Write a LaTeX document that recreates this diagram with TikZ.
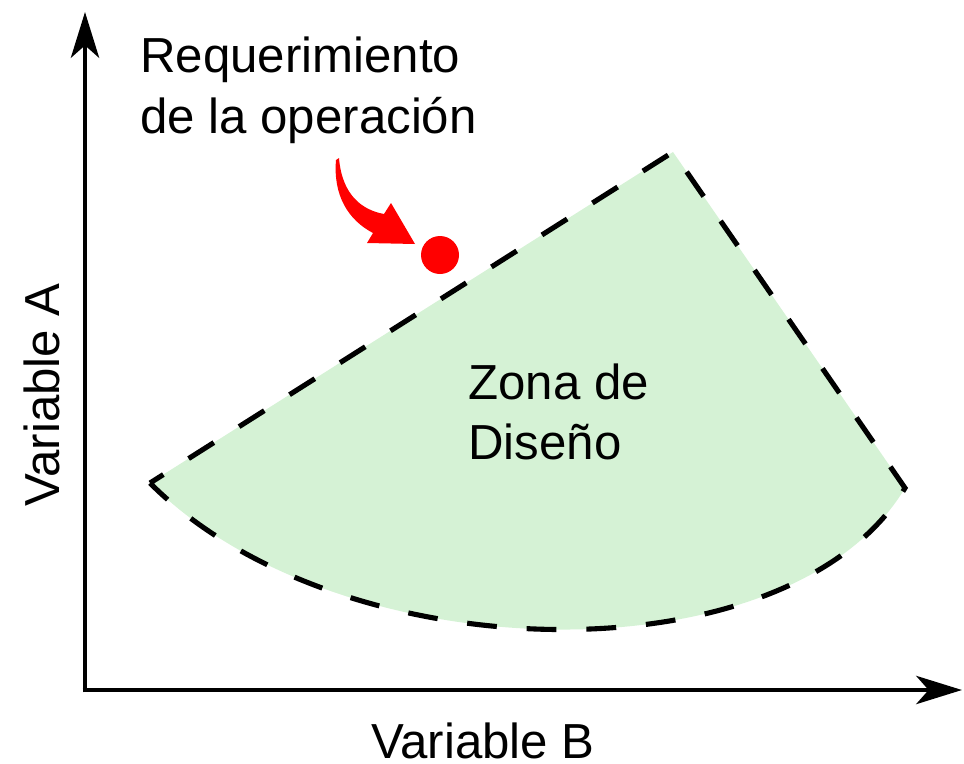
\documentclass[tikz,border=0pt]{standalone}
\usepackage{fontspec}
\setmainfont{Liberation Sans}
\usepackage{tikz}
\usetikzlibrary{arrows.meta}

\definecolor{zonagreen}{RGB}{213,242,213}
\definecolor{reqred}{RGB}{255,0,0}

\begin{document}
\begin{tikzpicture}[x=0.02cm,y=-0.02cm,
 axis/.style={line width=2.8pt, -{Stealth[length=26pt,width=16pt,inset=7pt]}},
 zona/.style={fill=zonagreen, draw=black, line width=2.9pt, dash pattern=on 17pt off 17pt, dash phase=8pt, line join=miter},
 lbl/.style={font=\fontsize{28}{34.6}\selectfont, align=left, inner sep=0pt}]

  \useasboundingbox (0,0) rectangle (964,764);

  % zona de diseno
  \coordinate (left) at (150,483);
  \coordinate (apex) at (673,152);
  \coordinate (right) at (905,488);
  \path[zona] (left) -- (apex) -- (right)
    .. controls (790,681) and (340,674) .. (left) -- cycle;

  % ejes
  \coordinate (origin) at (85,690);
  \coordinate (ytop) at (85,12);
  \coordinate (xend) at (962,690);
  \draw[axis] ([yshift=-1.4pt]origin) -- (ytop);
  \draw[axis] ([xshift=-1.4pt]origin) -- (xend);

  \node[lbl, anchor=center] (varB) at (483,741) {Variable B};
  \node[lbl, anchor=center, rotate=90] (varA) at (42,395) {Variable A};

  \node[lbl, anchor=north west] (zonatxt) at (468,363) {Zona de\\Diseño};
  \node[lbl, anchor=north west] (reqtxt) at (140,37) {Requerimiento\\de la operación};

  % punto y flecha
  \node[circle, fill=reqred, minimum size=38*0.02cm, inner sep=0pt] (punto) at (440,255) {};
  \fill[reqred] (339,158) .. controls (342,195) and (362,210) .. (384,214)
    -- (391,203) -- (415,244) -- (367,243) -- (373,233)
    .. controls (348,220) and (333,195) .. (336,160) -- cycle;
 \end{tikzpicture}
\end{document}
